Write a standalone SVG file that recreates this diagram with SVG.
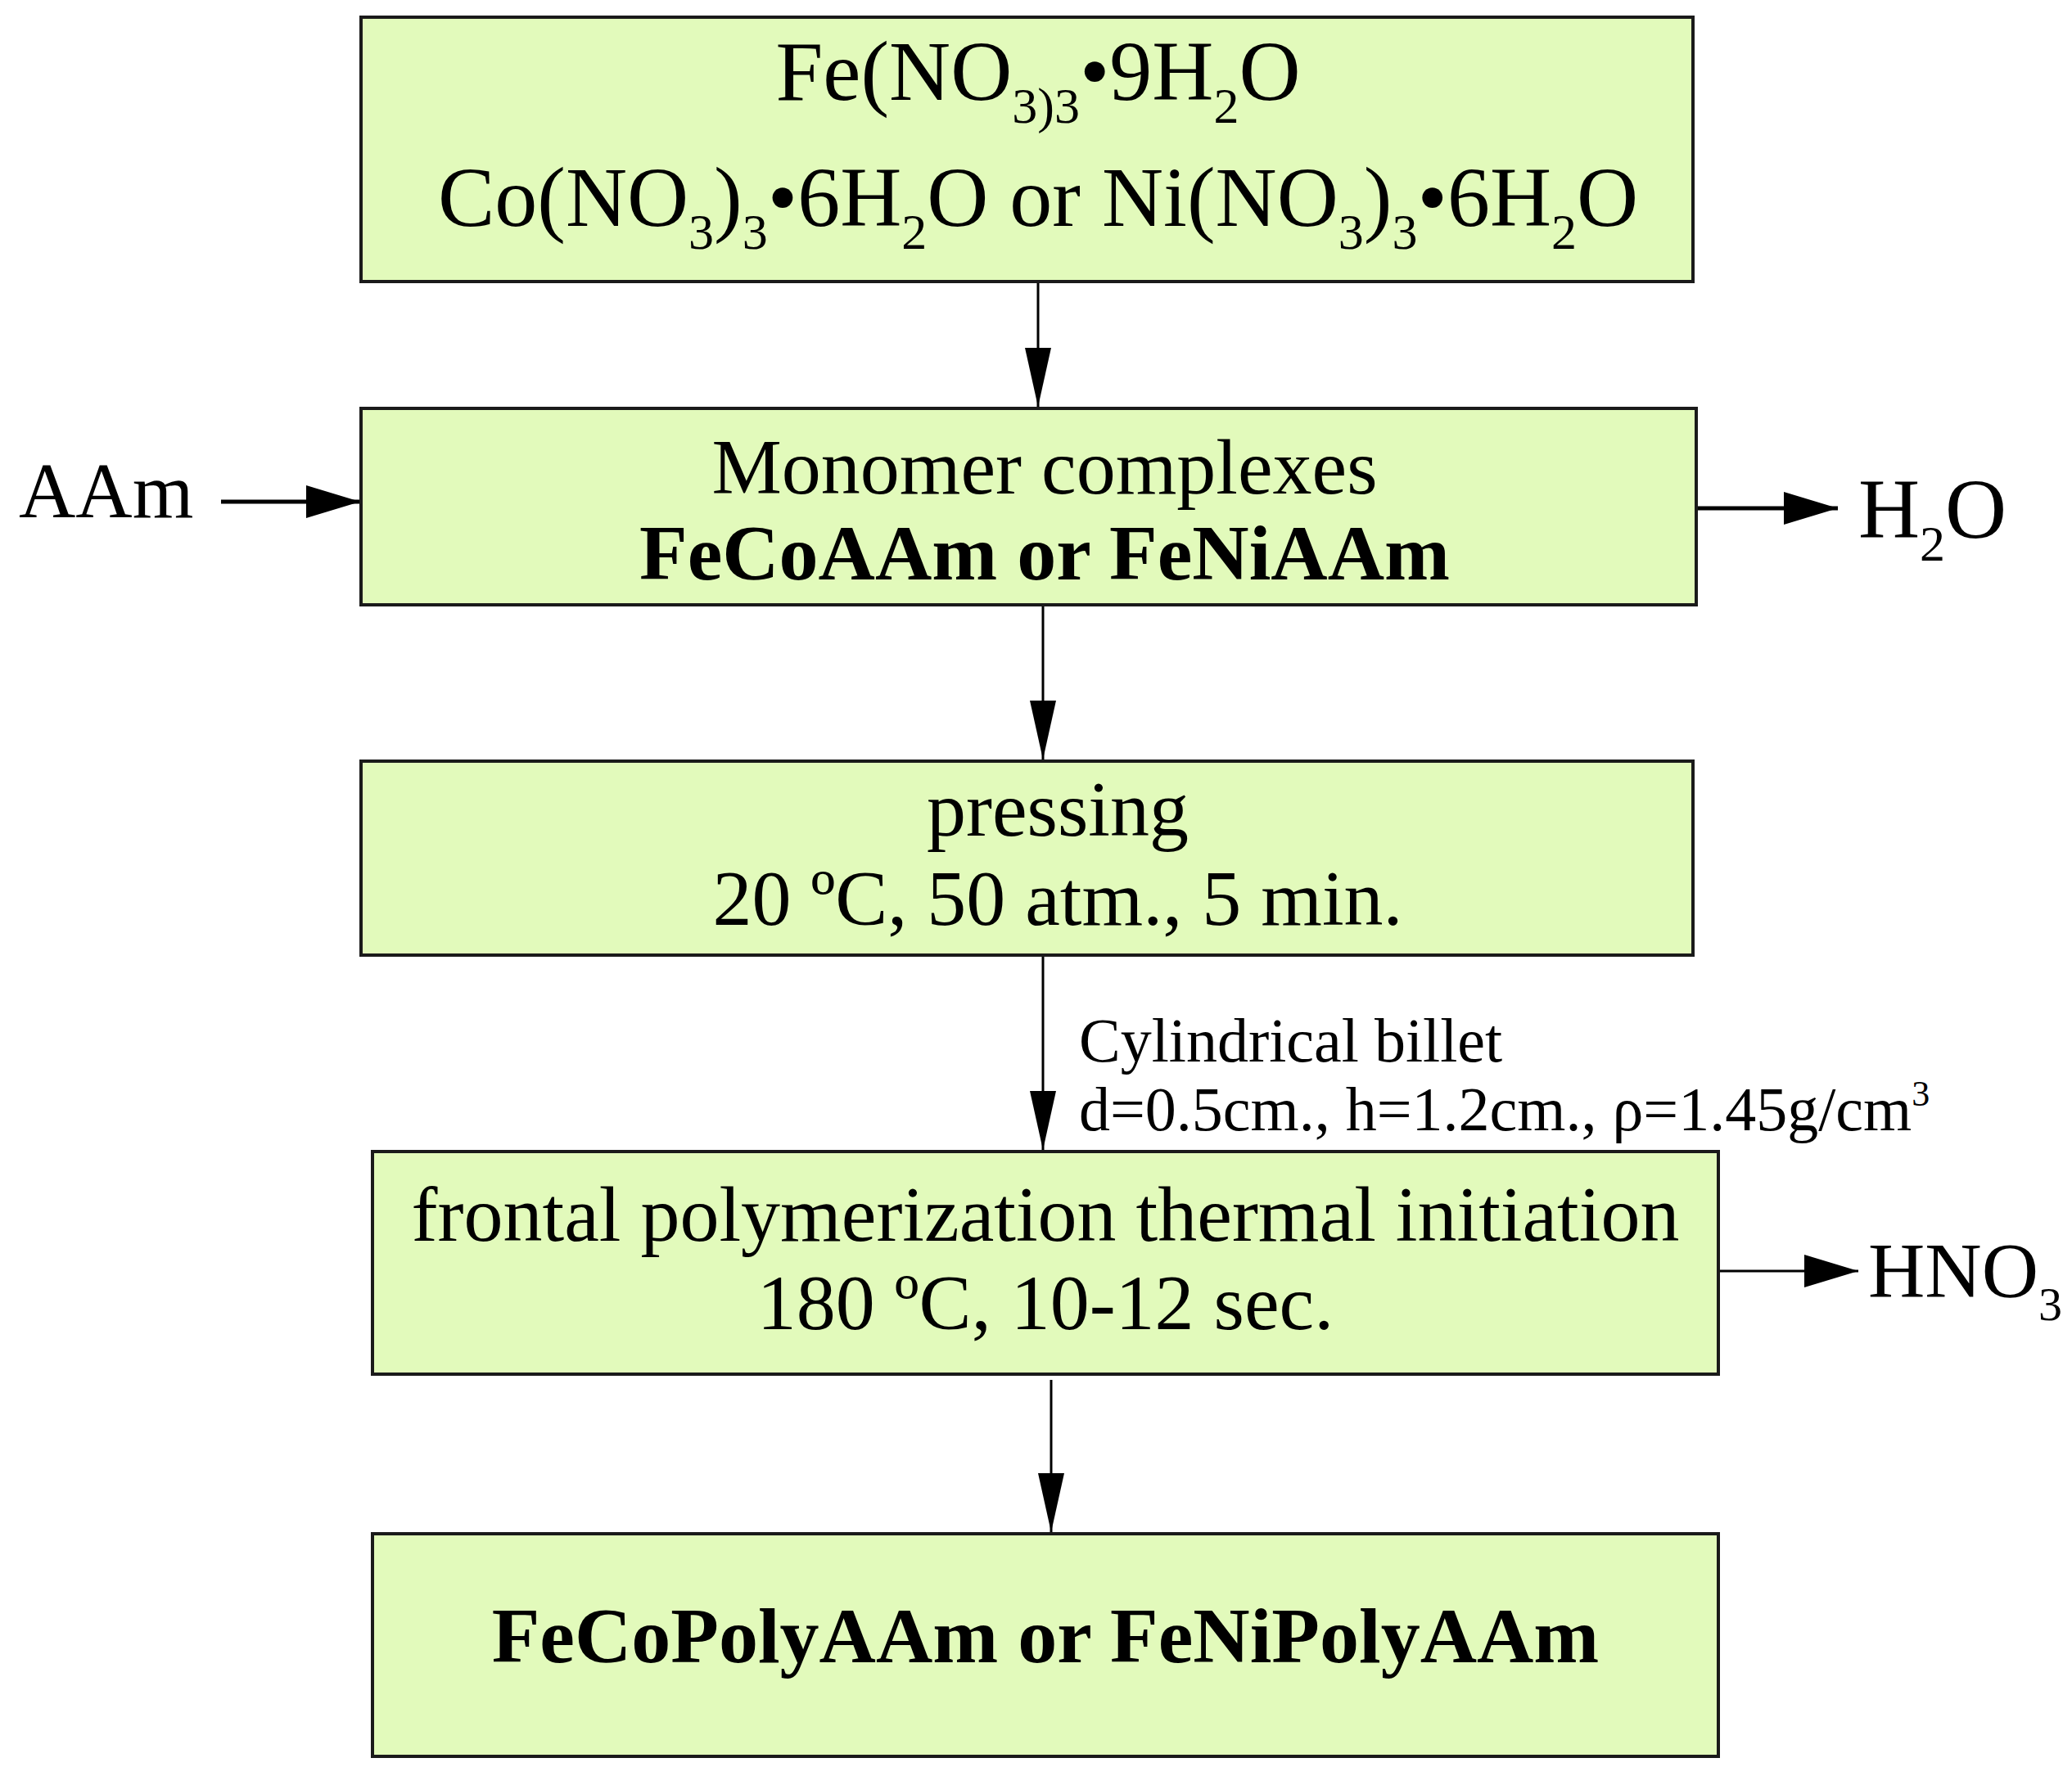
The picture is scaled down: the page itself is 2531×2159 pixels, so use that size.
<svg xmlns="http://www.w3.org/2000/svg" width="2531" height="2159" viewBox="0 0 2531 2159">
<style>
.box{fill:#e2fabb;stroke:#1a1a1a;stroke-width:4}
text{font-family:"Liberation Serif","Times New Roman",serif;fill:#000}
.c{text-anchor:middle}
.b{font-weight:bold}
.ln{stroke:#000;stroke-width:3;fill:none}
.lh{stroke:#000;stroke-width:5;fill:none}
</style>
<defs>
<marker id="av" markerUnits="userSpaceOnUse" markerWidth="80" markerHeight="40" refX="72" refY="16" orient="auto">
<path d="M0,0 L72,16 L0,32 Z" fill="#000"/>
</marker>
<marker id="ah" markerUnits="userSpaceOnUse" markerWidth="80" markerHeight="50" refX="66" refY="20" orient="auto">
<path d="M0,0 L66,20 L0,40 Z" fill="#000"/>
</marker>
</defs>
<rect width="2531" height="2159" fill="#fff"/>
<g id="connectors">
<line class="ln" x1="1268" y1="344" x2="1268" y2="497" marker-end="url(#av)"/>
<line class="ln" x1="1274" y1="739" x2="1274" y2="928" marker-end="url(#av)"/>
<line class="ln" x1="1274" y1="1167" x2="1274" y2="1405" marker-end="url(#av)"/>
<line class="ln" x1="1284" y1="1686" x2="1284" y2="1872" marker-end="url(#av)"/>
<line class="lh" x1="270" y1="613" x2="440" y2="613" marker-end="url(#ah)"/>
<line class="lh" x1="2072" y1="621" x2="2245" y2="621" marker-end="url(#ah)"/>
<line class="ln" x1="2100" y1="1553" x2="2270" y2="1553" marker-end="url(#ah)"/>
<text x="1318" y="1297" font-size="76">Cylindrical billet</text>
<text x="1318" y="1381" font-size="76">d=0.5cm., h=1.2cm., ρ=1.45g/cm<tspan font-size="44" dy="-30">3</tspan></text>
</g>
<g id="n1">
<rect class="box" x="441" y="21" width="1627" height="323"/>
<text class="c" x="1268" y="122" font-size="104">Fe(NO<tspan font-size="62" dy="28">3</tspan><tspan font-size="62">)</tspan><tspan font-size="62">3</tspan><tspan dy="-28">•9H</tspan><tspan font-size="62" dy="28">2</tspan><tspan dy="-28">O</tspan></text>
<text class="c" x="1268" y="276" font-size="104">Co(NO<tspan font-size="62" dy="28">3</tspan><tspan dy="-28">)</tspan><tspan font-size="62" dy="28">3</tspan><tspan dy="-28">•6H</tspan><tspan font-size="62" dy="28">2</tspan><tspan dy="-28">O or Ni(NO</tspan><tspan font-size="62" dy="28">3</tspan><tspan dy="-28">)</tspan><tspan font-size="62" dy="28">3</tspan><tspan dy="-28">•6H</tspan><tspan font-size="62" dy="28">2</tspan><tspan dy="-28">O</tspan></text>
</g>
<g id="n2">
<rect class="box" x="441" y="499" width="1631" height="240"/>
<text class="c" x="1276" y="603" font-size="96">Monomer complexes</text>
<text class="c b" x="1276" y="708" font-size="96">FeCoAAm or FeNiAAm</text>
</g>
<g id="aam"><text x="23" y="632" font-size="96">AAm</text></g>
<g id="h2o"><text x="2270" y="657" font-size="104">H<tspan font-size="62" dy="28">2</tspan><tspan dy="-28">O</tspan></text></g>
<g id="n3">
<rect class="box" x="441" y="930" width="1627" height="237"/>
<text class="c" x="1292" y="1021" font-size="96">pressing</text>
<text class="c" x="1292" y="1130" font-size="96">20 ºC, 50 atm., 5 min.</text>
</g>
<g id="n4">
<rect class="box" x="455" y="1407" width="1644" height="272"/>
<text class="c" x="1277" y="1516" font-size="96">frontal polymerization thermal initiation</text>
<text class="c" x="1277" y="1624" font-size="96">180 ºC, 10-12 sec.</text>
</g>
<g id="hno3"><text x="2282" y="1585" font-size="96">HNO<tspan font-size="58" dy="28">3</tspan></text></g>
<g id="n5">
<rect class="box" x="455" y="1874" width="1644" height="272"/>
<text class="c b" x="1277" y="2031" font-size="96">FeCoPolyAAm or FeNiPolyAAm</text>
</g>
</svg>
